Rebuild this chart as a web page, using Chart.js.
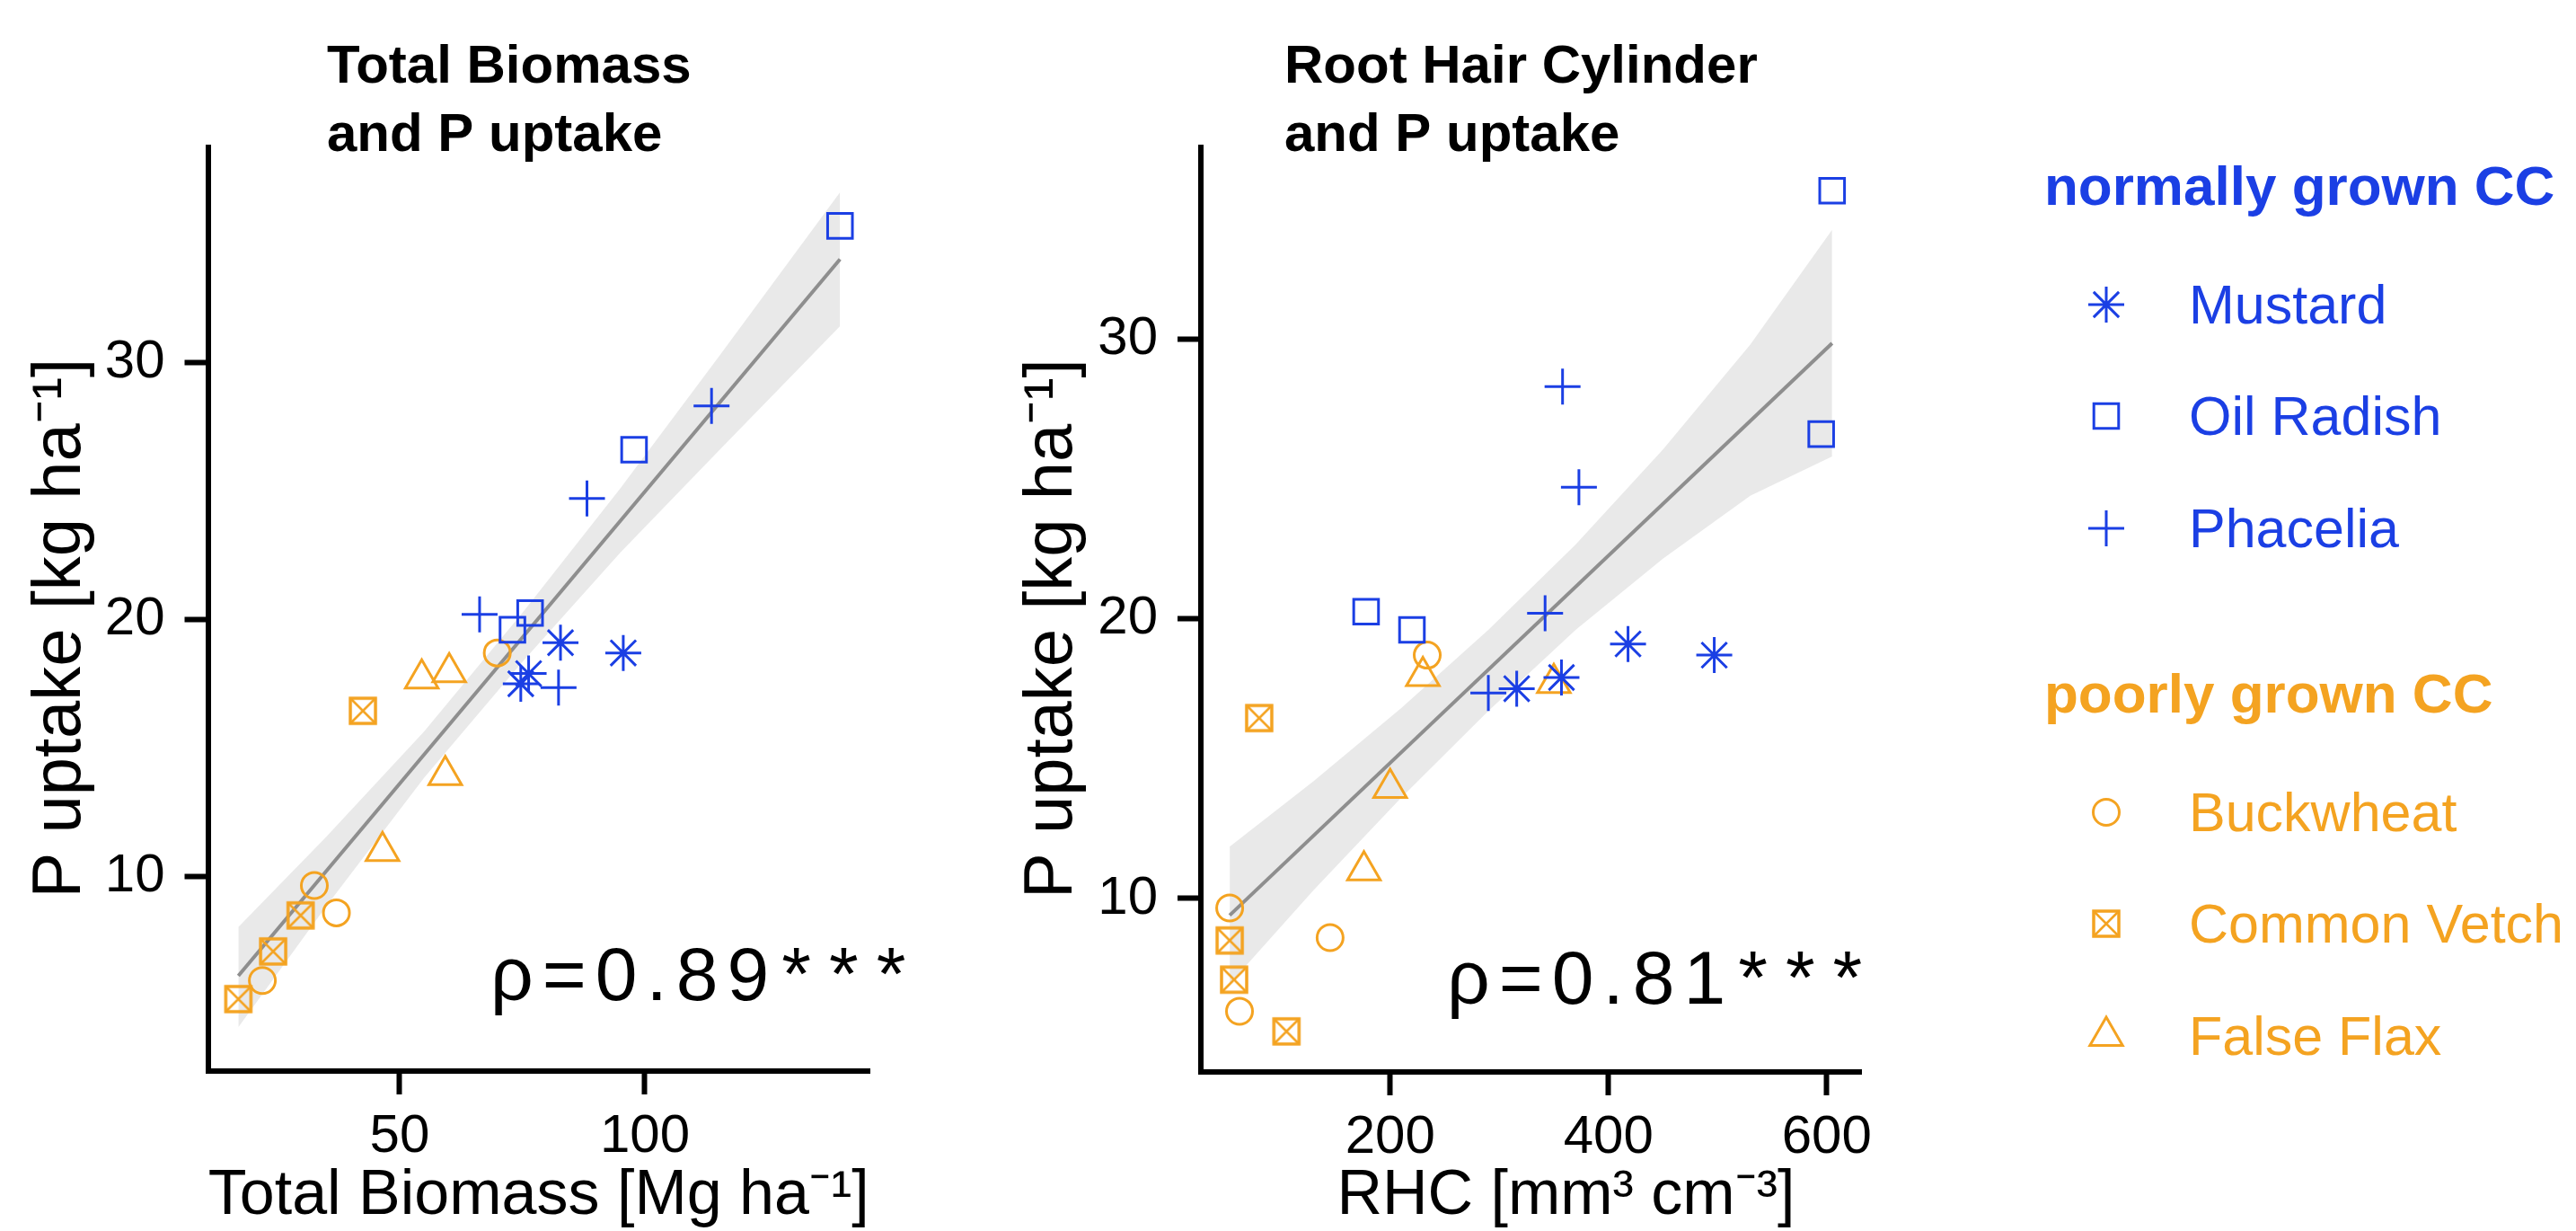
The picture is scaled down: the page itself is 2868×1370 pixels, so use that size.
<!DOCTYPE html>
<html>
<head>
<meta charset="utf-8">
<title>P uptake vs Total Biomass and RHC</title>
<script src="https://cdn.jsdelivr.net/npm/chart.js@4.4.1/dist/chart.umd.min.js"></script>
<style>
  html, body { margin: 0; padding: 0; background: #fff; }
  body {
    width: 2868px; height: 1370px; position: relative; overflow: hidden;
    font-family: "Liberation Sans", Arial, sans-serif;
  }
  #cBio { position: absolute; left: 0; top: 0; }
  #cRhc { position: absolute; left: 1100px; top: 0; }
  #legend { position: absolute; left: 2276px; top: 0; width: 592px; height: 1370px; }
  .lg-row { position: absolute; left: 0; height: 60px; line-height: 60px; font-size: 61px; white-space: nowrap; }
  .lg-title { font-weight: bold; font-size: 62px; }
  .lg-row canvas { position: absolute; left: 39px; top: 0; }
  .lg-row span { position: absolute; left: 161px; top: 0; }
</style>
</head>
<body>
<canvas id="cBio" width="1100" height="1370"></canvas>
<canvas id="cRhc" width="1050" height="1370"></canvas>
<div id="legend"></div>

<script>
const BLUE = "#1b3fe4";
const ORANGE = "#f4a321";

/* ---------- data ---------- */
// P uptake [kg ha-1] per plot, same plots in both panels
const mustardP   = [19.1, 18.7, 17.9, 17.5];
const oilRadishP = [35.3, 26.6, 20.25, 19.6];
const phaceliaP  = [28.3, 24.7, 20.2, 17.35];
const buckwheatP = [18.7, 9.66, 8.6, 5.97];
const vetchP     = [16.45, 8.5, 7.1, 5.25];
const flaxP      = [17.95, 17.7, 13.95, 11.0];

// Total Biomass [Mg ha-1]
const mustardBio   = [82.8, 95.6, 76.3, 74.7];
const oilRadishBio = [139.8, 97.8, 76.6, 73.0];
const phaceliaBio  = [113.6, 88.2, 66.3, 82.4];
const buckwheatBio = [69.9, 32.6, 37.1, 22.0];
const vetchBio     = [42.5, 29.8, 24.2, 17.1];
const flaxBio      = [60.1, 54.5, 59.3, 46.5];

// RHC [mm3 cm-3]
const mustardRhc   = [418, 497, 357, 316];
const oilRadishRhc = [605, 595, 178, 220];
const phaceliaRhc  = [358, 373, 342, 290];
const buckwheatRhc = [234, 53, 145, 62];
const vetchRhc     = [80, 53, 57, 105];
const flaxRhc      = [230, 350, 200, 176];

// fitted line + confidence band
const bioFitX = [17.1, 139.8];
const bioFitY = [6.15, 34.0];
const bioBandX  = [17.1, 35, 55, 75, 95, 115, 139.8];
const bioBandLo = [4.15, 8.85, 13.85, 18.35, 22.6, 26.55, 31.4];
const bioBandHi = [8.05, 11.55, 15.65, 20.25, 25.1, 30.2, 36.6];

const rhcFitX = [53, 605];
const rhcFitY = [9.4, 29.85];
const rhcBandX  = [53, 130, 210, 290, 370, 450, 530, 605];
const rhcBandLo = [6.95, 10.3, 13.6, 16.7, 19.6, 22.15, 24.4, 25.8];
const rhcBandHi = [11.85, 14.2, 16.8, 19.6, 22.65, 26.05, 29.8, 33.9];

const bioTicks = [50, 100];
const rhcTicks = [200, 400, 600];
const pTicks = [10, 20, 30];

const rhoBio = ["\u03c1=0.89", "***"];
const rhoRhc = ["\u03c1=0.81", "***"];

/* ---------- markers ---------- */
function boxCross(color) {
  const c = document.createElement("canvas");
  c.width = c.height = 36;
  const g = c.getContext("2d");
  g.strokeStyle = color;
  g.lineWidth = 3.5;
  g.strokeRect(4, 4, 28, 28);
  g.lineWidth = 2.5;
  g.beginPath();
  g.moveTo(5, 5); g.lineTo(31, 31);
  g.moveTo(31, 5); g.lineTo(5, 31);
  g.stroke();
  return c;
}

const species = [
  { label: "Mustard",      color: BLUE,   style: "star",     r: 20,   p: mustardP,   bio: mustardBio,   rhc: mustardRhc },
  { label: "Oil Radish",   color: BLUE,   style: "rect",     r: 19.5, p: oilRadishP, bio: oilRadishBio, rhc: oilRadishRhc },
  { label: "Phacelia",     color: BLUE,   style: "cross",    r: 20,   p: phaceliaP,  bio: phaceliaBio,  rhc: phaceliaRhc },
  { label: "Buckwheat",    color: ORANGE, style: "circle",   r: 14.5, p: buckwheatP, bio: buckwheatBio, rhc: buckwheatRhc },
  { label: "Common Vetch", color: ORANGE, style: boxCross(ORANGE), r: 18, p: vetchP, bio: vetchBio,    rhc: vetchRhc },
  { label: "False Flax",   color: ORANGE, style: "triangle", r: 21,   p: flaxP,      bio: flaxBio,      rhc: flaxRhc }
];

const pts = (xs, ys) => xs.map((x, i) => ({ x: x, y: ys[i] }));

/* ---------- titles + rho label ---------- */
const panelText = {
  id: "panelText",
  afterDraw(chart, args, opts) {
    const { ctx, chartArea, scales } = chart;
    ctx.save();
    ctx.fillStyle = "#000";
    ctx.textAlign = "left";
    ctx.textBaseline = "alphabetic";
    ctx.font = 'bold 60px "Liberation Sans", Arial, sans-serif';
    opts.title.forEach((line, i) => {
      ctx.fillText(line, chartArea.left + opts.titleX, 91.5 + i * 76);
    });
    // rho value, then the significance stars a bit wider apart
    ctx.font = '84px "Liberation Sans", Arial, sans-serif';
    const x = scales.x.getPixelForValue(opts.rhoAt[0]);
    const y = scales.y.getPixelForValue(opts.rhoAt[1]);
    ctx.letterSpacing = "10px";
    ctx.fillText(opts.rho[0], x, y);
    const w = ctx.measureText(opts.rho[0]).width;
    ctx.letterSpacing = "20px";
    ctx.fillText(opts.rho[1], x + w + 4, y);
    ctx.restore();
  }
};

Chart.defaults.font.family = '"Liberation Sans", Arial, sans-serif';
Chart.defaults.color = "#000";

function buildPanel(id, cfg) {
  const datasets = species.map(s => ({
    label: s.label,
    data: pts(s[cfg.key], s.p),
    pointStyle: s.style,
    pointRadius: s.r,
    pointBorderWidth: 3,
    pointBorderColor: s.color,
    pointBackgroundColor: "rgba(0,0,0,0)",
    order: 0
  }));
  datasets.push({
    type: "line", label: "fit", data: pts(cfg.fitX, cfg.fitY),
    borderColor: "#8e8e8e", borderWidth: 4, pointRadius: 0, fill: false, order: 1
  });
  datasets.push({
    type: "line", label: "band lo", data: pts(cfg.bandX, cfg.bandLo),
    borderColor: "rgba(0,0,0,0)", borderWidth: 0, pointRadius: 0, fill: false, order: 2
  });
  datasets.push({
    type: "line", label: "band hi", data: pts(cfg.bandX, cfg.bandHi),
    borderColor: "rgba(0,0,0,0)", borderWidth: 0, pointRadius: 0,
    fill: "-1", backgroundColor: "rgba(153,153,153,0.22)", order: 2
  });

  const axisGrid = { drawOnChartArea: false, drawTicks: true, tickLength: 26, tickWidth: 6, tickColor: "#000" };
  const axisBorder = { display: true, color: "#000", width: 6 };

  new Chart(document.getElementById(id), {
    type: "scatter",
    data: { datasets },
    plugins: [panelText],
    options: {
      responsive: false,
      animation: false,
      events: [],
      layout: { padding: { left: 0, top: 164, right: cfg.padRight, bottom: 0 } },
      plugins: {
        legend: { display: false },
        tooltip: { enabled: false },
        panelText: { title: cfg.title, titleX: cfg.titleX, rho: cfg.rho, rhoAt: cfg.rhoAt }
      },
      scales: {
        x: {
          type: "linear", min: cfg.xMin, max: cfg.xMax,
          afterBuildTicks: sc => { sc.ticks = cfg.xTicks.map(v => ({ value: v })); },
          afterFit: sc => { sc.height = cfg.xAxisH; },
          grid: axisGrid, border: axisBorder,
          ticks: { color: "#000", font: { size: 60 }, padding: 11, maxRotation: 0, autoSkip: false },
          title: { display: true, text: cfg.xTitle, color: "#000", font: { size: 70, lineHeight: 1 }, padding: { top: 0, bottom: 3 } }
        },
        y: {
          type: "linear", min: cfg.yMin, max: cfg.yMax,
          afterBuildTicks: sc => { sc.ticks = pTicks.map(v => ({ value: v })); },
          afterFit: sc => { sc.width = cfg.yAxisW; },
          grid: axisGrid, border: axisBorder,
          ticks: { color: "#000", font: { size: 60 }, padding: 22, autoSkip: false },
          title: { display: true, text: "P uptake [kg ha\u207b\u00b9]  ", color: "#000", font: { size: 76, lineHeight: 1 }, padding: { top: cfg.yTitlePad, bottom: 0 } }
        }
      }
    }
  });
}

buildPanel("cBio", {
  key: "bio",
  title: ["Total Biomass", "and P uptake"], titleX: 132.5,
  rho: rhoBio, rhoAt: [68.5, 5.2],
  fitX: bioFitX, fitY: bioFitY, bandX: bioBandX, bandLo: bioBandLo, bandHi: bioBandHi,
  xMin: 10.9, xMax: 145.8, xTicks: bioTicks, yMin: 2.45, yMax: 38.35,
  xTitle: "Total Biomass [Mg ha\u207b\u00b9]",
  padRight: 132, xAxisH: 178, yAxisW: 231.5, yTitlePad: 30
});

buildPanel("cRhc", {
  key: "rhc",
  title: ["Root Hair Cylinder", "and P uptake"], titleX: 93,
  rho: rhoRhc, rhoAt: [252, 6.25],
  fitX: rhcFitX, fitY: rhcFitY, bandX: rhcBandX, bandLo: rhcBandLo, bandHi: rhcBandHi,
  xMin: 26.6, xMax: 631.5, xTicks: rhcTicks, yMin: 3.8, yMax: 36.85,
  xTitle: "\u00a0\u00a0\u00a0\u00a0RHC [mm\u00b3 cm\u207b\u00b3]",
  padRight: 78, xAxisH: 177, yAxisW: 237, yTitlePad: 34
});

/* ---------- legend ---------- */
const legendGroups = [
  { title: "normally grown CC", color: BLUE,   y: 206, items: ["Mustard", "Oil Radish", "Phacelia"] },
  { title: "poorly grown CC",   color: ORANGE, y: 771, items: ["Buckwheat", "Common Vetch", "False Flax"] }
];

function legendRow(y, color, cls) {
  const row = document.createElement("div");
  row.className = "lg-row" + (cls ? " " + cls : "");
  row.style.top = (y - 29.5) + "px";
  row.style.color = color;
  document.getElementById("legend").appendChild(row);
  return row;
}

legendGroups.forEach(g => {
  legendRow(g.y, g.color, "lg-title").textContent = g.title;
  g.items.forEach((name, k) => {
    const s = species.find(sp => sp.label === name);
    const row = legendRow(g.y + 132 + k * 124.5, g.color);
    const cv = document.createElement("canvas");
    cv.width = 60; cv.height = 60;
    row.appendChild(cv);
    const ctx = cv.getContext("2d");
    ctx.strokeStyle = s.color;
    ctx.fillStyle = "rgba(0,0,0,0)";
    ctx.lineWidth = 3;
    Chart.helpers.drawPoint(ctx, { pointStyle: s.style, radius: s.r, borderWidth: 3, rotation: 0 }, 30, 30);
    const span = document.createElement("span");
    span.textContent = name;
    row.appendChild(span);
  });
});
</script>
</body>
</html>
